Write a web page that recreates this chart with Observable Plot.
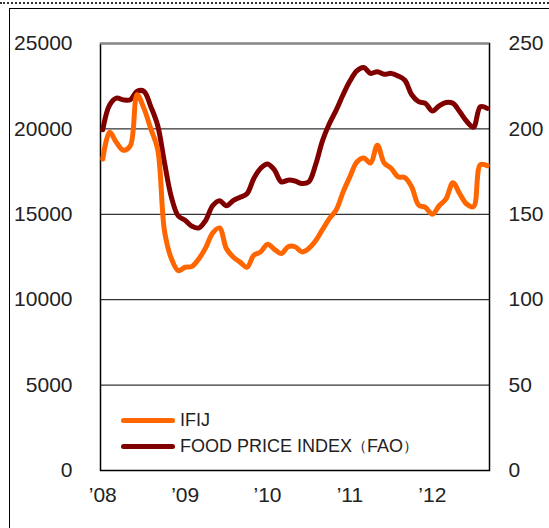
<!DOCTYPE html>
<html>
<head>
<meta charset="utf-8">
<script src="https://cdn.jsdelivr.net/npm/d3@7"></script>
<script src="https://cdn.jsdelivr.net/npm/@observablehq/plot@0.6"></script>
<style>
  html, body { margin: 0; padding: 0; background: #fff; }
  #wrap { position: relative; width: 549px; height: 528px; overflow: hidden; font-family: "Liberation Sans", Arial, sans-serif; }
  #dots { position: absolute; left: 0; top: 2px; width: 549px; border-top: 2px dotted #333; }
  #box { position: absolute; left: 9px; top: 8px; width: 600px; height: 600px; border-left: 1px solid #000; border-top: 1px solid #000; }
  #chart { position: absolute; left: 0; top: 0; }
  .leg { position: absolute; left: 121px; display: flex; align-items: center; font-size: 18px; line-height: 20px; color: #222; white-space: nowrap; }
  .leg span.sw { display: inline-block; width: 54px; height: 5px; border-radius: 3px; margin-right: 5px; }
  .leg span.p { font-size: 15px; }
</style>
</head>
<body>
<div id="wrap">
  <div id="dots"></div>
  <div id="box"></div>
  <div id="chart"></div>
  <div class="leg" style="top:410px"><span class="sw" style="background:#ff6600"></span>IFIJ</div>
  <div class="leg" style="top:436px"><span class="sw" style="background:#800000"></span>FOOD PRICE INDEX<span class="p">（</span>FAO<span class="p">）</span></div>
</div>
<script>
// Monthly data, Jan 2008 (index 0) to Sep 2012 (index 56)
const ifij = [18230, 19800, 19200, 18750, 19000, 22000, 21200, 20000, 18800, 14000,
  12400, 11700, 11900, 11950, 12400, 13050, 13900, 14200, 13000, 12500,
  12200, 11900, 12600, 12800, 13250, 12950, 12700, 13100, 13100, 12800,
  13000, 13450, 14100, 14750, 15250, 16300, 17200, 18050, 18300, 18000,
  19050, 18000, 17700, 17200, 17150, 16600, 15550, 15400, 15000, 15500,
  15900, 16850, 16200, 15600, 15450, 17900, 17850];
const fao = [199.5, 214, 218, 217, 217, 222, 222, 213, 202, 180,
  160, 149, 146.5, 143, 142, 146.5, 155, 158, 155, 158,
  160, 162, 171, 177, 179.5, 176, 169, 170, 169.5, 168,
  169, 179, 193, 203, 211, 220, 228, 234, 236, 232.5,
  233.5, 232, 232.5, 231, 228.5, 220, 216, 215, 210.5, 213.5,
  215.5, 215, 210, 204.5, 201, 213, 212];
const yearTicks = [0, 12, 24, 36, 48];
const yearLabels = ["’08", "’09", "’10", "’11", "’12"];
const leftTicks = [0, 5000, 10000, 15000, 20000, 25000];
const rightTicks = [0, 50, 100, 150, 200, 250];

const ifijData = ifij.map((v, i) => ({i, v}));
const faoData = fao.map((v, i) => ({i, v: v * 100}));

const chart = Plot.plot({
  width: 549,
  height: 528,
  marginLeft: 100,
  marginRight: 60,
  marginTop: 43,
  marginBottom: 58,
  style: {fontFamily: "Liberation Sans, Arial, sans-serif", fontSize: "21px", color: "#222", background: "transparent"},
  x: {type: "linear", domain: [-0.33, 56.33]},
  y: {domain: [0, 25000]},
  marks: [
    Plot.ruleY(leftTicks, {stroke: "#000", strokeWidth: 1}),
    Plot.frame({stroke: "#000", strokeWidth: 1.5}),
    Plot.ruleY([25000], {stroke: "#888", strokeWidth: 2}),
    Plot.axisX(yearTicks, {tickSize: 0, tickPadding: 17, tickFormat: (d, k) => yearLabels[k], label: null, fontSize: 21}),
    Plot.axisY(leftTicks, {anchor: "left", tickSize: 0, tickPadding: 28, label: null, tickFormat: d3.format("d"), fontSize: 21}),
    Plot.axisY(rightTicks.map(d => d * 100), {anchor: "right", tickSize: 0, tickPadding: 19, label: null, tickFormat: d => String(d / 100), fontSize: 21}),
    Plot.line(faoData, {x: "i", y: "v", stroke: "#800000", strokeWidth: 5, curve: "catmull-rom"}),
    Plot.line(ifijData, {x: "i", y: "v", stroke: "#ff6600", strokeWidth: 5, curve: "catmull-rom"})
  ]
});
document.getElementById("chart").appendChild(chart);
</script>
</body>
</html>
